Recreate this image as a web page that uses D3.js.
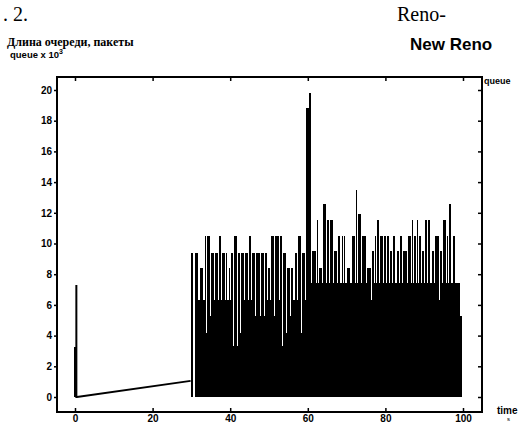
<html>
<script src='https://d3js.org/d3.v7.min.js'></script>
<style>
body {margin:0; background:white;}
text {fill:black;}
</style>
<body>
<svg width=527 height=424></svg>
<script>

// queue length (x 10^3 packets) vs time (s), New Reno
var timeTicks = [0, 20, 40, 60, 80, 100];
var queueTicks = [0, 2, 4, 6, 8, 10, 12, 14, 16, 18, 20];

// start of the run: small burst at t=0, then slow growth
var earlyTime  = [0, 0, 0.35, 0.35, 0.35, 0.5, 29.8];
var earlyQueue = [0, 3.2, 3.2, 7.3, 0, 0, 1.05];

// after t=30: one burst per ~second, top value and value it drops to
var burstTime = [30.0, 30.8, 32.1, 33.4, 34.1, 35.1, 36.0, 37.1, 38.0, 39.0, 39.6, 40.3, 40.9, 42.0, 42.9, 43.9, 44.8, 45.6, 46.7, 47.9,
  48.9, 49.7, 50.6, 51.6, 52.8, 53.6, 54.6, 55.6, 56.6, 57.5, 58.5, 59.6, 60.2, 61.0, 62.3, 63.0, 64.0, 64.9, 65.7, 66.8,
  67.9, 68.7, 69.3, 70.0, 71.3, 72.4, 73.0, 73.9, 75.2, 76.5, 77.3, 77.9, 78.6, 79.6, 80.5, 81.3, 82.0, 82.9, 83.8, 84.6,
  85.9, 86.8, 87.4, 88.1, 88.7, 89.5, 90.2, 91.1, 91.9, 92.9, 94.1, 94.9, 95.8, 96.5, 97.3, 98.2, 99.2];
var burstPeak = [9.4, 9.4, 8.4, 10.5, 10.5, 9.4, 9.4, 10.5, 9.4, 9.4, 8.4, 9.4, 10.5, 9.4, 9.4, 9.4, 10.5, 9.4, 9.4, 9.4,
  9.4, 8.4, 10.5, 10.5, 10.5, 9.4, 8.4, 8.4, 9.4, 10.5, 9.4, 18.8, 19.8, 9.5, 11.5, 8.4, 12.6, 11.5, 11.5, 9.5,
  10.5, 10.5, 10.5, 8.4, 10.5, 13.5, 11.9, 10.5, 8.4, 9.5, 10.5, 11.5, 10.5, 10.5, 10.5, 9.5, 10.5, 9.5, 10.5, 9.5,
  10.5, 11.5, 10.5, 11.5, 10.5, 9.5, 11.5, 11.5, 9.5, 10.5, 9.5, 11.5, 10.5, 12.6, 10.5, 7.4, 5.3];
var burstDip = [0, 6.3, 6.3, 4.2, 5.3, 6.3, 6.3, 6.3, 6.3, 6.3, 6.3, 3.3, 3.3, 4.2, 6.3, 6.3, 6.3, 5.3, 5.3, 5.3,
  6.3, 6.3, 5.3, 6.3, 3.3, 4.2, 5.3, 6.3, 6.3, 4.2, 6.3, 18.8, 7.4, 7.4, 7.4, 7.4, 7.4, 7.4, 7.4, 7.4,
  7.4, 7.4, 7.4, 7.4, 7.4, 7.4, 7.4, 7.4, 6.3, 7.4, 7.4, 7.4, 7.4, 7.4, 7.4, 7.4, 7.4, 7.4, 7.4, 7.4,
  7.4, 7.4, 7.4, 7.4, 7.4, 7.4, 7.4, 7.4, 7.4, 6.3, 7.4, 7.4, 7.4, 7.4, 7.4, 7.4, 0];
var endTime = 100;

var svg = d3.select("svg");
var boxL = 57, boxR = 482, boxT = 77, boxB = 412;

var xscale = d3.scaleLinear().domain([0, 100]).range([75, 463]);
var yscale = d3.scaleLinear().domain([0, 20]).range([397, 90]);

// texts above the chart
svg.append("text").attr("x", 3).attr("y", 21)
  .style("font-family", "Liberation Serif").style("font-size", "20px").text(". 2.");
svg.append("text").attr("x", 397).attr("y", 21)
  .style("font-family", "Liberation Serif").style("font-size", "20px").text("Reno-");
svg.append("text").attr("x", 7).attr("y", 46)
  .style("font-family", "Liberation Serif").style("font-weight", "bold").style("font-size", "12px")
  .text("Длина очереди, пакеты");
var qlab = svg.append("text").attr("x", 10).attr("y", 58)
  .style("font-family", "Liberation Sans").style("font-weight", "bold").style("font-size", "9.5px");
qlab.append("tspan").text("queue x 10");
qlab.append("tspan").attr("dy", -4).style("font-size", "7px").text("3");
svg.append("text").attr("x", 410).attr("y", 50)
  .style("font-family", "Liberation Sans").style("font-weight", "bold").style("font-size", "17px")
  .text("New Reno");

// the queue trace
var g = svg.append("g");

var early = earlyTime.map(function(t, i) { return [t, earlyQueue[i]]; });
g.append("path")
  .datum(early)
  .attr("fill", "none").attr("stroke", "black").attr("stroke-width", 2)
  .attr("d", d3.line().x(function(d) { return xscale(d[0]); }).y(function(d) { return yscale(d[1]); }));

var pts = [];
for (var i = 0; i < burstTime.length; i++) {
  var next = i < burstTime.length - 1 ? burstTime[i + 1] : endTime;
  pts.push([burstTime[i], burstPeak[i]]);
  pts.push([next - 0.3, burstDip[i]]);
}
pts.push([endTime, 0]);

g.append("path")
  .datum(pts)
  .attr("fill", "black").attr("shape-rendering", "crispEdges")
  .attr("d", d3.area().curve(d3.curveStepAfter)
    .x(function(d) { return xscale(d[0]); })
    .y0(yscale(0))
    .y1(function(d) { return yscale(d[1]); }));

// frame
svg.append("rect").attr("x", boxL).attr("y", boxT)
  .attr("width", boxR - boxL).attr("height", boxB - boxT)
  .attr("fill", "none").attr("stroke", "black").attr("stroke-width", 2);

// axes
var x_axis = d3.axisBottom(xscale).tickValues(timeTicks).tickSizeInner(-4).tickSizeOuter(0).tickPadding(3);
var y_axis = d3.axisLeft(yscale).tickValues(queueTicks).tickSizeInner(3).tickSizeOuter(0).tickPadding(2);

var xa = svg.append("g").attr("transform", "translate(0," + boxB + ")").call(x_axis);
var ya = svg.append("g").attr("transform", "translate(" + boxL + ",0)").call(y_axis);
svg.append("g").attr("transform", "translate(0," + boxT + ")")
  .call(d3.axisTop(xscale).tickValues(timeTicks).tickSizeInner(-4).tickSizeOuter(0).tickFormat(""));
svg.append("g").attr("transform", "translate(" + boxR + ",0)")
  .call(d3.axisRight(yscale).tickValues(queueTicks).tickSizeInner(-4).tickSizeOuter(0).tickFormat(""));

svg.selectAll(".domain").remove();
svg.selectAll(".tick line").attr("stroke-width", 1.5);
[xa, ya].forEach(function(a) {
  a.selectAll("text")
    .style("font-family", "Liberation Sans").style("font-weight", "bold").style("font-size", "10px");
});

// axis names
svg.append("text").attr("x", 484).attr("y", 84)
  .style("font-family", "Liberation Sans").style("font-weight", "bold").style("font-size", "9px").text("queue");
svg.append("text").attr("x", 497).attr("y", 414)
  .style("font-family", "Liberation Sans").style("font-weight", "bold").style("font-size", "10px").text("time");
svg.append("text").attr("x", 507).attr("y", 421)
  .style("font-family", "Liberation Sans").style("font-size", "6px").text("s");

</script>
</body>
</html>
